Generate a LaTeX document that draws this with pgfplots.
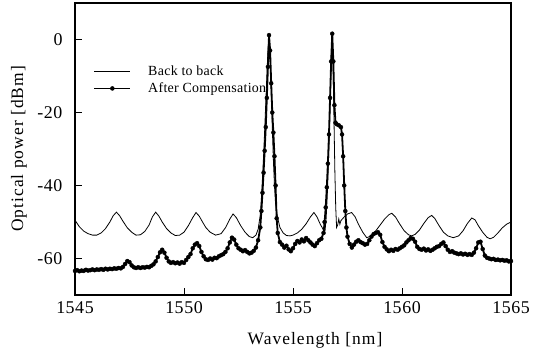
\documentclass[border=0pt]{standalone}
\usepackage{fontspec}
\setmainfont{Liberation Serif}
\usepackage{pgfplots}
\pgfplotsset{compat=1.18}
\begin{document}
\begin{tikzpicture}
\begin{axis}[
  scale only axis, width=436bp, height=292bp,
  xmin=1545, xmax=1565, ymin=-70, ymax=10,
  xtick={1545,1550,1555,1560,1565}, ytick={-60,-40,-20,0},
  xtick pos=bottom, ytick pos=left, tick align=inside,
  major tick length=7bp,
  axis line style={line width=1.3bp},
  tick style={line width=1bp, black},
  /pgf/number format/assume math mode=true,
  /pgf/number format/set thousands separator={},
  ticklabel style={font=\fontsize{18}{20}\selectfont\addfontfeature{LetterSpace=3}},
  xticklabel style={yshift=-3bp},
  yticklabel style={xshift=-9bp},
  xlabel={Wavelength [nm]},
  ylabel={Optical power [dBm]},
  every axis x label/.style={at={(rel axis cs:0.5,0)}, anchor=center, xshift=22bp, yshift=-45bp,
     font=\fontsize{17.5}{20}\selectfont\addfontfeature{LetterSpace=6}},
  every axis y label/.style={at={(rel axis cs:0,0.5)}, anchor=center, xshift=-56bp, rotate=90,
     font=\fontsize{17.5}{20}\selectfont\addfontfeature{LetterSpace=6}},
  legend style={draw=none, fill=none, at={(rel axis cs:0.035,0.80)}, anchor=north west,
    font=\fontsize{14}{16}\selectfont\addfontfeature{LetterSpace=2}, row sep=2bp,
    nodes={inner xsep=17bp, inner ysep=2bp}},
  legend cell align=left,
  legend image code/.code={\draw[mark repeat=2,mark phase=2,#1] plot coordinates {(0bp,0bp) (18bp,0bp) (36bp,0bp)};},
]
\addplot[black, line width=0.8bp, mark=none] coordinates {
(1545.0,-49.5) (1545.2,-51.3) (1545.4,-52.5) (1545.6,-53.2) (1545.8,-53.6) (1546.0,-53.6)
(1546.2,-53.0) (1546.4,-51.8) (1546.6,-50.0) (1546.75,-48.3) (1546.9,-47.3) (1547.05,-48.3)
(1547.2,-49.8) (1547.4,-51.6) (1547.6,-52.8) (1547.8,-53.6) (1548.0,-53.5) (1548.2,-52.6)
(1548.4,-50.8) (1548.55,-48.6) (1548.7,-47.3) (1548.85,-48.4) (1549.0,-50.0) (1549.2,-51.8)
(1549.4,-53.0) (1549.6,-53.7) (1549.8,-53.6) (1550.0,-52.8) (1550.2,-51.0) (1550.4,-48.8)
(1550.55,-47.4) (1550.7,-48.4) (1550.85,-50.0) (1551.0,-51.5) (1551.2,-52.8) (1551.45,-53.6)
(1551.7,-53.2) (1551.9,-51.6) (1552.1,-49.2) (1552.25,-47.8) (1552.4,-48.8) (1552.6,-51.0)
(1552.8,-52.8) (1553.0,-54.0) (1553.15,-54.3) (1553.3,-53.6) (1553.4,-52.0) (1553.5,-48.0)
(1553.55,-43.5) (1553.6,-38.0) (1553.65,-32.0) (1553.7,-25.0) (1553.75,-17.5) (1553.8,-10.0)
(1553.85,-3.0) (1553.9,1.0) (1553.95,-4.0) (1554.0,-14.0) (1554.05,-24.0) (1554.1,-33.0)
(1554.15,-40.0) (1554.2,-45.0) (1554.3,-49.0) (1554.4,-51.5) (1554.55,-53.0) (1554.7,-53.7)
(1554.86,-53.8) (1555.0,-53.6) (1555.2,-53.0) (1555.4,-52.0) (1555.6,-50.5) (1555.8,-48.6)
(1555.96,-47.4) (1556.1,-48.6) (1556.25,-50.6) (1556.4,-52.2) (1556.47,-52.4) (1556.52,-49.0)
(1556.57,-43.0) (1556.62,-35.0) (1556.67,-25.0) (1556.72,-14.0) (1556.76,-4.0) (1556.8,1.5)
(1556.84,-8.0) (1556.88,-22.0) (1556.92,-36.0) (1556.96,-46.0) (1557.0,-51.5) (1557.05,-50.8)
(1557.1,-49.2) (1557.15,-50.6) (1557.2,-49.6) (1557.35,-48.6) (1557.5,-47.8) (1557.69,-47.4)
(1557.85,-48.6) (1558.0,-50.6) (1558.2,-52.8) (1558.38,-54.3) (1558.6,-53.8) (1558.8,-52.4)
(1559.0,-50.8) (1559.2,-49.2) (1559.4,-48.0) (1559.53,-47.6) (1559.7,-48.6) (1559.9,-50.6)
(1560.1,-52.4) (1560.3,-53.5) (1560.44,-53.8) (1560.6,-53.4) (1560.8,-52.2) (1561.0,-50.4)
(1561.2,-48.8) (1561.36,-48.2) (1561.5,-49.0) (1561.7,-51.0) (1561.9,-52.8) (1562.1,-53.8)
(1562.35,-54.3) (1562.6,-53.8) (1562.8,-52.4) (1563.0,-50.4) (1563.2,-48.9) (1563.35,-49.4)
(1563.5,-51.0) (1563.7,-52.8) (1563.9,-54.2) (1564.04,-54.6) (1564.2,-54.2) (1564.4,-53.0)
(1564.6,-51.6) (1564.8,-50.6) (1565.0,-50.0)
};
\addlegendentry{Back to back}
\addplot[black, line width=1.8bp, mark=*, mark size=2bp, mark options={solid, line width=0.4bp}] coordinates {
(1545.0,-63.4) (1545.1,-63.2) (1545.2,-63.5) (1545.3,-63.3) (1545.4,-63.4) (1545.5,-63.1)
(1545.6,-63.3) (1545.7,-63.2) (1545.8,-63.0) (1545.9,-63.2) (1546.0,-63.0) (1546.1,-63.1)
(1546.2,-62.9) (1546.3,-63.1) (1546.4,-62.8) (1546.5,-63.0) (1546.6,-62.8) (1546.7,-62.9)
(1546.8,-62.7) (1546.9,-62.8) (1547.0,-62.6) (1547.1,-62.7) (1547.2,-62.3) (1547.3,-61.5)
(1547.4,-60.7) (1547.5,-61.0) (1547.6,-61.9) (1547.7,-62.4) (1547.8,-62.6) (1547.9,-62.4)
(1548.0,-62.6) (1548.1,-62.4) (1548.2,-62.5) (1548.3,-62.3) (1548.4,-62.4) (1548.5,-62.0)
(1548.6,-61.6) (1548.7,-60.8) (1548.8,-59.6) (1548.9,-58.3) (1549.0,-57.6) (1549.1,-58.4)
(1549.2,-59.8) (1549.3,-60.8) (1549.4,-61.2) (1549.5,-61.0) (1549.6,-61.3) (1549.7,-61.1)
(1549.8,-61.4) (1549.9,-61.0) (1550.0,-61.2) (1550.1,-60.4) (1550.2,-59.6) (1550.3,-58.8)
(1550.4,-57.2) (1550.5,-56.2) (1550.6,-55.8) (1550.7,-56.6) (1550.8,-58.2) (1550.9,-59.4)
(1551.0,-60.2) (1551.1,-60.4) (1551.2,-60.0) (1551.3,-60.3) (1551.4,-59.8) (1551.5,-59.9)
(1551.6,-59.4) (1551.7,-59.1) (1551.8,-58.8) (1551.9,-58.2) (1552.0,-57.2) (1552.1,-55.6)
(1552.2,-54.3) (1552.3,-54.8) (1552.4,-56.2) (1552.5,-57.2) (1552.6,-57.6) (1552.7,-58.0)
(1552.8,-57.7) (1552.9,-58.2) (1553.0,-58.6) (1553.1,-58.4) (1553.2,-57.9) (1553.3,-57.0)
(1553.4,-55.0) (1553.5,-51.5) (1553.55,-47.0) (1553.6,-42.0) (1553.65,-36.5) (1553.7,-30.5)
(1553.75,-24.0) (1553.8,-16.0) (1553.85,-7.5) (1553.9,1.2) (1553.95,-3.0) (1554.0,-12.0)
(1554.05,-20.0) (1554.1,-25.5) (1554.15,-32.0) (1554.2,-40.0) (1554.25,-49.0) (1554.3,-53.0)
(1554.4,-55.5) (1554.5,-56.2) (1554.6,-57.0) (1554.7,-56.5) (1554.8,-57.5) (1554.9,-58.0)
(1555.0,-57.2) (1555.1,-56.0) (1555.2,-55.2) (1555.3,-55.6) (1555.4,-54.8) (1555.5,-55.3)
(1555.6,-54.4) (1555.7,-55.0) (1555.8,-55.6) (1555.9,-56.2) (1556.0,-56.6) (1556.1,-55.8)
(1556.2,-55.0) (1556.3,-54.6) (1556.4,-53.0) (1556.45,-50.0) (1556.5,-46.0) (1556.55,-40.5)
(1556.6,-34.0) (1556.65,-26.0) (1556.7,-16.0) (1556.75,-6.0) (1556.8,1.6) (1556.85,-6.0)
(1556.9,-18.0) (1556.95,-22.8) (1557.0,-23.2) (1557.1,-23.5) (1557.2,-24.0) (1557.25,-26.0)
(1557.3,-32.0) (1557.35,-40.0) (1557.4,-47.0) (1557.45,-51.5) (1557.5,-54.0) (1557.6,-56.0)
(1557.7,-57.0) (1557.8,-56.2) (1557.9,-55.4) (1558.0,-55.0) (1558.1,-55.5) (1558.2,-55.8)
(1558.3,-56.2) (1558.4,-56.0) (1558.5,-55.0) (1558.6,-54.0) (1558.7,-53.3) (1558.8,-53.0)
(1558.9,-52.8) (1559.0,-53.5) (1559.1,-55.5) (1559.2,-56.8) (1559.3,-57.5) (1559.4,-58.0)
(1559.5,-57.6) (1559.6,-57.9) (1559.7,-57.4) (1559.8,-57.6) (1559.9,-57.2) (1560.0,-56.8)
(1560.1,-56.4) (1560.2,-55.6) (1560.3,-55.0) (1560.4,-54.4) (1560.5,-54.6) (1560.6,-55.4)
(1560.7,-56.8) (1560.8,-57.4) (1560.9,-57.6) (1561.0,-57.3) (1561.1,-57.8) (1561.2,-57.5)
(1561.3,-57.9) (1561.4,-57.6) (1561.5,-57.2) (1561.6,-56.8) (1561.7,-56.6) (1561.8,-56.0)
(1561.9,-55.6) (1562.0,-56.6) (1562.1,-57.6) (1562.2,-58.2) (1562.3,-58.0) (1562.4,-58.4)
(1562.5,-58.6) (1562.6,-58.8) (1562.7,-58.6) (1562.8,-58.9) (1562.9,-58.7) (1563.0,-59.0)
(1563.1,-58.8) (1563.2,-59.0) (1563.3,-58.4) (1563.4,-57.2) (1563.5,-55.6) (1563.6,-55.4)
(1563.7,-57.4) (1563.8,-59.2) (1563.9,-59.8) (1564.0,-60.0) (1564.1,-60.2) (1564.2,-60.1)
(1564.3,-60.4) (1564.4,-60.3) (1564.5,-60.5) (1564.6,-60.4) (1564.7,-60.6) (1564.8,-60.5)
(1564.9,-60.8) (1565.0,-60.7)
};
\addlegendentry{After Compensation}
\end{axis}
\pgfresetboundingbox
\path ([shift={(-75bp,-61bp)}]current axis.south west) rectangle ([shift={(22bp,3bp)}]current axis.north east);
\end{tikzpicture}
\end{document}
